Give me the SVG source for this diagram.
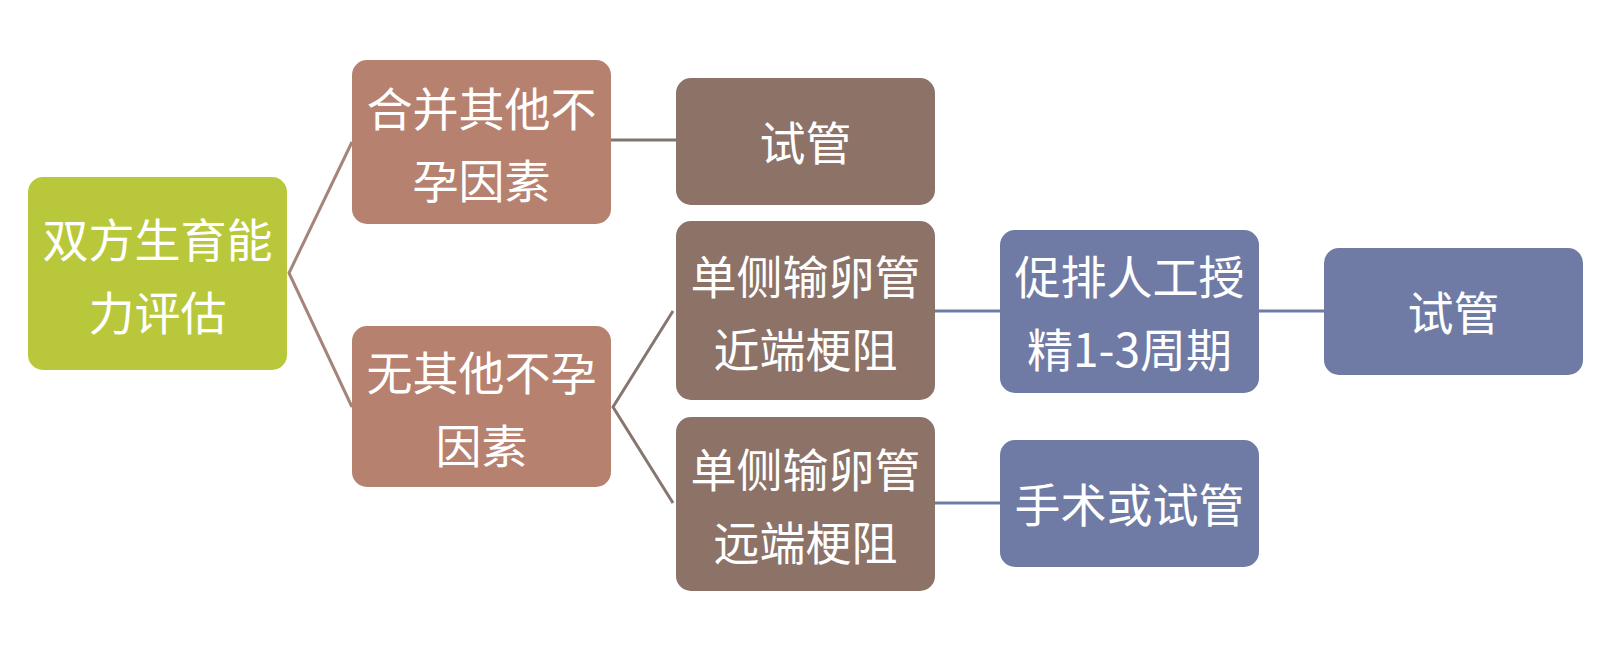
<svg xmlns="http://www.w3.org/2000/svg" width="1611" height="652" viewBox="0 0 1611 652">
<style>
.t{font-family:"Noto Sans CJK SC","Noto Sans",sans-serif;font-size:46px;fill:#ffffff;text-anchor:middle;dominant-baseline:central}
.green{fill:#b9c83b}
.salmon{fill:#b6816f}
.brown{fill:#8d7268}
.blue{fill:#6f7ba5}
.c{fill:none;stroke-width:3}
</style>
<rect width="1611" height="652" fill="#ffffff"/>
<g id="connectors">
<polyline class="c" stroke="#a4847b" points="352,142 289,273 352,407"/>
<line class="c" stroke="#7f7571" x1="611" y1="140" x2="676" y2="140"/>
<polyline class="c" stroke="#857670" points="673,311 613,407 673,503"/>
<line class="c" stroke="#6f7ba5" x1="935" y1="311" x2="1000" y2="311"/>
<line class="c" stroke="#6f7ba5" x1="1259" y1="311" x2="1324" y2="311"/>
<line class="c" stroke="#6f7ba5" x1="935" y1="503" x2="1000" y2="503"/>
</g>
<g id="n1"><rect class="green" x="28" y="177" width="259" height="193" rx="15"/>
<text class="t" x="157.5" y="237">双方生育能</text><text class="t" x="157.5" y="310">力评估</text></g>
<g id="n2"><rect class="salmon" x="352" y="60" width="259" height="164" rx="15"/>
<text class="t" x="481.5" y="106">合并其他不</text><text class="t" x="481.5" y="178">孕因素</text></g>
<g id="n3"><rect class="salmon" x="352" y="326" width="259" height="161" rx="15"/>
<text class="t" x="481.5" y="370">无其他不孕</text><text class="t" x="481.5" y="443">因素</text></g>
<g id="n4"><rect class="brown" x="676" y="78" width="259" height="127" rx="15"/>
<text class="t" x="805.5" y="140">试管</text></g>
<g id="n5"><rect class="brown" x="676" y="221" width="259" height="179" rx="15"/>
<text class="t" x="805.5" y="274">单侧输卵管</text><text class="t" x="805.5" y="347">近端梗阻</text></g>
<g id="n6"><rect class="brown" x="676" y="417" width="259" height="174" rx="15"/>
<text class="t" x="805.5" y="467">单侧输卵管</text><text class="t" x="805.5" y="540">远端梗阻</text></g>
<g id="n7"><rect class="blue" x="1000" y="230" width="259" height="163" rx="15"/>
<text class="t" x="1129.5" y="274">促排人工授</text><text class="t" x="1129.5" y="347">精1-3周期</text></g>
<g id="n8"><rect class="blue" x="1324" y="248" width="259" height="127" rx="15"/>
<text class="t" x="1453.5" y="310">试管</text></g>
<g id="n9"><rect class="blue" x="1000" y="440" width="259" height="127" rx="15"/>
<text class="t" x="1129.5" y="502">手术或试管</text></g>
</svg>
